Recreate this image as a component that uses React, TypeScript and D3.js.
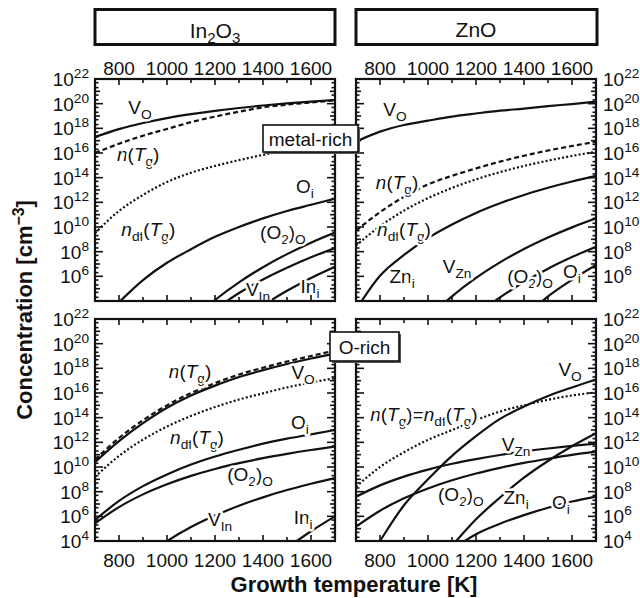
import React from 'react';
import * as d3 from 'd3';

// ---------- DATA (log10 of concentration in cm^-3) ----------
const T_FULL = [700, 800, 900, 1000, 1100, 1200, 1300, 1400, 1500, 1600, 1700];
const X_TICK_LABELS = [800, 1000, 1200, 1400, 1600];

// In2O3, metal-rich
const IN_M_VO = [17.3, 17.94, 18.43, 18.83, 19.15, 19.42, 19.65, 19.85, 20.02, 20.17, 20.3];
const IN_M_N = [16.0, 16.75, 17.4, 17.95, 18.5, 18.95, 19.35, 19.7, 19.92, 20.1, 20.27];
const IN_M_NDF = [9.5, 11.3, 12.6, 13.65, 14.4, 14.95, 15.42, 15.85, 16.25, 16.6, 16.95];
const IN_M_OI_T = [800, 900, 1000, 1100, 1200, 1300, 1400, 1500, 1600, 1700];
const IN_M_OI = [3.9, 5.7, 7.1, 8.2, 9.2, 10.0, 10.7, 11.3, 11.8, 12.3];
const IN_M_O2_T = [1100, 1200, 1300, 1400, 1500, 1600, 1700];
const IN_M_O2 = [2.4, 4.08, 5.51, 6.74, 7.8, 8.73, 9.55];
const IN_M_VIN_T = [1200, 1300, 1400, 1500, 1600, 1700];
const IN_M_VIN = [3.3, 4.65, 5.75, 6.7, 7.55, 8.3];
const IN_M_INI_T = [1400, 1500, 1600, 1700];
const IN_M_INI = [3.65, 4.83, 5.87, 6.78];

// ZnO, metal-rich
const ZN_M_VO = [16.92, 17.73, 18.27, 18.62, 18.95, 19.2, 19.43, 19.6, 19.8, 19.97, 20.16];
const ZN_M_N = [9.7, 11.2, 12.45, 13.45, 14.15, 14.75, 15.3, 15.78, 16.2, 16.57, 16.9];
const ZN_M_NDF = [8.5, 10.06, 11.33, 12.34, 13.17, 13.86, 14.45, 14.95, 15.38, 15.76, 16.1];
const ZN_M_ZNI = [3.3, 6.05, 7.74, 9.1, 10.2, 11.14, 11.92, 12.6, 13.18, 13.69, 14.14];
const ZN_M_VZN_T = [1000, 1100, 1200, 1300, 1400, 1500, 1600, 1700];
const ZN_M_VZN = [2.6, 4.38, 5.87, 7.13, 8.22, 9.15, 9.97, 10.7];
const ZN_M_O2_T = [1200, 1300, 1400, 1500, 1600, 1700];
const ZN_M_O2 = [2.9, 4.29, 5.54, 6.62, 7.56, 8.4];
const ZN_M_OI_T = [1400, 1500, 1600, 1700];
const ZN_M_OI = [2.6, 4.37, 5.72, 6.92];

// In2O3, O-rich
const IN_O_VO = [10.4, 12.1, 13.55, 14.8, 15.8, 16.6, 17.3, 17.85, 18.35, 18.8, 19.2];
const IN_O_N = [10.6, 12.35, 13.8, 15.0, 16.0, 16.8, 17.5, 18.05, 18.55, 19.0, 19.45];
const IN_O_NDF = [9.2, 10.9, 12.22, 13.28, 14.14, 14.86, 15.47, 15.97, 16.45, 16.85, 17.2];
const IN_O_OI = [5.7, 7.25, 8.45, 9.4, 10.2, 10.85, 11.4, 11.9, 12.3, 12.65, 13.0];
const IN_O_O2 = [5.43, 6.75, 7.78, 8.6, 9.28, 9.84, 10.31, 10.72, 11.07, 11.38, 11.65];
const IN_O_VIN_T = [900, 1000, 1100, 1200, 1300, 1400, 1500, 1600, 1700];
const IN_O_VIN = [2.6, 3.99, 5.13, 6.06, 6.86, 7.54, 8.13, 8.64, 9.1];
const IN_O_INI_T = [1500, 1600, 1700];
const IN_O_INI = [3.43, 4.79, 6.0];

// ZnO, O-rich
const ZN_O_VO = [0.8, 4.0, 6.9, 9.0, 10.9, 12.5, 13.9, 14.9, 15.75, 16.45, 17.1];
const ZN_O_N = [8.4, 10.0, 11.2, 12.2, 13.0, 13.8, 14.5, 15.0, 15.45, 15.8, 16.05];
const ZN_O_VZN = [7.59, 8.51, 9.22, 9.79, 10.26, 10.64, 10.97, 11.26, 11.5, 11.71, 11.9];
const ZN_O_O2 = [5.16, 6.45, 7.46, 8.26, 8.92, 9.47, 9.93, 10.33, 10.67, 10.98, 11.24];
const ZN_O_ZNI_T = [1100, 1200, 1300, 1400, 1500, 1600, 1700];
const ZN_O_ZNI = [3.6, 5.76, 7.53, 9.14, 10.49, 11.68, 12.73];
const ZN_O_OI_T = [1100, 1200, 1300, 1400, 1500, 1600, 1700];
const ZN_O_OI = [3.3, 4.55, 5.4, 6.1, 6.7, 7.2, 7.6];

// ---------- LABEL TEXTS ----------
type Part = [string, string?];
const L_VO: Part[] = [['V'], ['O', 's']];
const L_N: Part[] = [['n', 'i'], ['('], ['T', 'i'], ['g', 's'], [')']];
const L_NDF: Part[] = [['n', 'i'], ['df', 's'], ['('], ['T', 'i'], ['g', 's'], [')']];
const L_OI: Part[] = [['O'], ['i', 's']];
const L_O2: Part[] = [['(O'], ['2', 's'], [')'], ['O', 's']];
const L_VIN: Part[] = [['V'], ['In', 's']];
const L_INI: Part[] = [['In'], ['i', 's']];
const L_ZNI: Part[] = [['Zn'], ['i', 's']];
const L_VZN: Part[] = [['V'], ['Zn', 's']];
const L_NEQ: Part[] = [...L_N, ['=']  as Part, ...L_NDF];

const FONT = 'Liberation Sans, Arial, Helvetica, sans-serif';

const PANEL_W = 240;
const PANEL_H = 222;
const COL_X = [95, 356];
const ROW_Y = [79, 319];

type Series = { T: number[]; v: number[]; style: 'solid' | 'dash' | 'dot' };
type Lab = { T: number; e: number; parts: Part[] };

const PANELS: { col: number; row: number; series: Series[]; labels: Lab[] }[] = [
  {
    col: 0, row: 0,
    series: [
      { T: T_FULL, v: IN_M_VO, style: 'solid' },
      { T: T_FULL, v: IN_M_N, style: 'dash' },
      { T: T_FULL, v: IN_M_NDF, style: 'dot' },
      { T: IN_M_OI_T, v: IN_M_OI, style: 'solid' },
      { T: IN_M_O2_T, v: IN_M_O2, style: 'solid' },
      { T: IN_M_VIN_T, v: IN_M_VIN, style: 'solid' },
      { T: IN_M_INI_T, v: IN_M_INI, style: 'solid' },
    ],
    labels: [
      { T: 887, e: 19.65, parts: L_VO },
      { T: 880, e: 15.84, parts: L_N },
      { T: 922, e: 9.75, parts: L_NDF },
      { T: 1575, e: 13.24, parts: L_OI },
      { T: 1483, e: 9.51, parts: L_O2 },
      { T: 1379, e: 4.89, parts: L_VIN },
      { T: 1596, e: 5.13, parts: L_INI },
    ],
  },
  {
    col: 1, row: 0,
    series: [
      { T: T_FULL, v: ZN_M_VO, style: 'solid' },
      { T: T_FULL, v: ZN_M_N, style: 'dash' },
      { T: T_FULL, v: ZN_M_NDF, style: 'dot' },
      { T: T_FULL, v: ZN_M_ZNI, style: 'solid' },
      { T: ZN_M_VZN_T, v: ZN_M_VZN, style: 'solid' },
      { T: ZN_M_O2_T, v: ZN_M_O2, style: 'solid' },
      { T: ZN_M_OI_T, v: ZN_M_OI, style: 'solid' },
    ],
    labels: [
      { T: 862, e: 19.49, parts: L_VO },
      { T: 871, e: 13.57, parts: L_N },
      { T: 900, e: 9.75, parts: L_NDF },
      { T: 892, e: 5.94, parts: L_ZNI },
      { T: 1121, e: 6.75, parts: L_VZN },
      { T: 1425, e: 5.94, parts: L_O2 },
      { T: 1600, e: 6.35, parts: L_OI },
    ],
  },
  {
    col: 0, row: 1,
    series: [
      { T: T_FULL, v: IN_O_VO, style: 'solid' },
      { T: T_FULL, v: IN_O_N, style: 'dash' },
      { T: T_FULL, v: IN_O_NDF, style: 'dot' },
      { T: T_FULL, v: IN_O_OI, style: 'solid' },
      { T: T_FULL, v: IN_O_O2, style: 'solid' },
      { T: IN_O_VIN_T, v: IN_O_VIN, style: 'solid' },
      { T: IN_O_INI_T, v: IN_O_INI, style: 'solid' },
    ],
    labels: [
      { T: 1096, e: 17.7, parts: L_N },
      { T: 1567, e: 17.62, parts: L_VO },
      { T: 1554, e: 13.57, parts: L_OI },
      { T: 1125, e: 12.35, parts: L_NDF },
      { T: 1346, e: 9.35, parts: L_O2 },
      { T: 1221, e: 5.7, parts: L_VIN },
      { T: 1567, e: 5.86, parts: L_INI },
    ],
  },
  {
    col: 1, row: 1,
    series: [
      { T: T_FULL, v: ZN_O_VO, style: 'solid' },
      { T: T_FULL, v: ZN_O_N, style: 'dot' },
      { T: T_FULL, v: ZN_O_VZN, style: 'solid' },
      { T: T_FULL, v: ZN_O_O2, style: 'solid' },
      { T: ZN_O_ZNI_T, v: ZN_O_ZNI, style: 'solid' },
      { T: ZN_O_OI_T, v: ZN_O_OI, style: 'solid' },
    ],
    labels: [
      { T: 983, e: 14.21, parts: L_NEQ },
      { T: 1592, e: 17.86, parts: L_VO },
      { T: 1367, e: 11.78, parts: L_VZN },
      { T: 1137, e: 7.73, parts: L_O2 },
      { T: 1367, e: 7.48, parts: L_ZNI },
      { T: 1554, e: 7.08, parts: L_OI },
    ],
  },
];

function Rich({ x, y, parts, size = 19, anchor = 'middle', halo = false, weight = 'normal' }:
  { x: number; y: number; parts: Part[]; size?: number; anchor?: string; halo?: boolean; weight?: string }) {
  let shift = 0;
  const spans = parts.map(([t, st], i) => {
    const s = st || '';
    const sub = s.includes('s');
    const sup = s.includes('p');
    const target = sub ? 5 : sup ? -8 : 0;
    const dy = target - shift;
    shift = target;
    return (
      <tspan key={i} dy={dy} fontSize={sub || sup ? size * 0.72 : size} fontStyle={s.includes('i') ? 'italic' : 'normal'}>
        {t}
      </tspan>
    );
  });
  return (
    <text
      x={x}
      y={y}
      textAnchor={anchor as any}
      fontFamily={FONT}
      fontSize={size}
      fontWeight={weight}
      fill="#111"
      stroke={halo ? 'white' : 'none'}
      strokeWidth={halo ? 5 : 0}
      strokeLinejoin="round"
      style={{ paintOrder: 'stroke' } as any}
    >
      {spans}
    </text>
  );
}

function Panel({ p, idx }: { p: (typeof PANELS)[number]; idx: number }) {
  const x0 = COL_X[p.col];
  const y0 = ROW_Y[p.row];
  const xs = d3.scaleLinear().domain([700, 1700]).range([x0, x0 + PANEL_W]);
  const ys = d3.scaleLog().domain([1e4, 1e22]).range([y0 + PANEL_H, y0]);
  const line = (s: Series) =>
    d3
      .line<number>()
      .x((_, i) => xs(s.T[i]))
      .y((v) => ys(Math.pow(10, v)))
      .curve(d3.curveMonotoneX)(s.v) || '';
  const clipId = `clip${idx}`;

  const xTicks = d3.range(800, 1700, 100);
  const yMajor = d3.range(5, 22, 1);
  const yMinor: number[] = [];
  for (let e = 4; e < 22; e++) {
    yMinor.push(Math.pow(10, e) * 2, Math.pow(10, e) * 5);
  }
  const tickEls: JSX.Element[] = [];
  xTicks.forEach((t) => {
    const len = t % 200 === 0 ? 6 : 4;
    const x = xs(t);
    tickEls.push(<line key={`xt${t}`} x1={x} x2={x} y1={y0} y2={y0 + len} />);
    tickEls.push(<line key={`xb${t}`} x1={x} x2={x} y1={y0 + PANEL_H} y2={y0 + PANEL_H - len} />);
  });
  yMajor.forEach((e) => {
    const len = e % 2 === 0 ? 8 : 5;
    const y = ys(Math.pow(10, e));
    tickEls.push(<line key={`yl${e}`} x1={x0} x2={x0 + len} y1={y} y2={y} />);
    tickEls.push(<line key={`yr${e}`} x1={x0 + PANEL_W} x2={x0 + PANEL_W - len} y1={y} y2={y} />);
  });
  yMinor.forEach((v, i) => {
    const y = ys(v);
    tickEls.push(<line key={`ml${i}`} x1={x0} x2={x0 + 3.5} y1={y} y2={y} />);
    tickEls.push(<line key={`mr${i}`} x1={x0 + PANEL_W} x2={x0 + PANEL_W - 3.5} y1={y} y2={y} />);
  });

  // tick labels
  const tickLabels: JSX.Element[] = [];
  const showTop = p.row === 0;
  X_TICK_LABELS.forEach((t) => {
    tickLabels.push(
      <text key={`xl${t}`} x={xs(t)} y={showTop ? y0 - 4 : y0 + PANEL_H + 26} textAnchor="middle" fontFamily={FONT} fontSize={19} fill="#111">
        {t}
      </text>
    );
  });
  const eStart = p.row === 0 ? 6 : 4;
  for (let e = eStart; e <= 22; e += 2) {
    const y = ys(Math.pow(10, e)) + 7;
    const parts: Part[] = [['10'], [String(e), 'p']];
    if (p.col === 0) {
      tickLabels.push(<Rich key={`yl${e}`} x={89} y={y} parts={parts} anchor="end" />);
    } else {
      tickLabels.push(<Rich key={`yr${e}`} x={603} y={y} parts={parts} anchor="start" />);
    }
  }

  return (
    <g>
      <defs>
        <clipPath id={clipId}>
          <rect x={x0} y={y0} width={PANEL_W} height={PANEL_H} />
        </clipPath>
      </defs>
      <rect x={x0} y={y0} width={PANEL_W} height={PANEL_H} fill="white" />
      <g clipPath={`url(#${clipId})`}>
        {p.series.map((s, i) => (
          <path
            key={i}
            d={line(s)}
            fill="none"
            stroke="#111"
            strokeWidth={s.style === 'dot' ? 2.2 : 2.2}
            strokeDasharray={s.style === 'dash' ? '5,3' : s.style === 'dot' ? '2,2.2' : undefined}
          />
        ))}
        <g stroke="#111" strokeWidth={1.6}>{tickEls}</g>
        {p.labels.map((l, i) => (
          <Rich key={i} x={xs(l.T)} y={ys(Math.pow(10, l.e)) + 6} parts={l.parts} halo />
        ))}
      </g>
      <rect x={x0} y={y0} width={PANEL_W} height={PANEL_H} fill="none" stroke="#111" strokeWidth={2.2} />
      {tickLabels}
    </g>
  );
}

function BoxLabel({ x, y, w, h, text }: { x: number; y: number; w: number; h: number; text: string }) {
  return (
    <g>
      <rect x={x + 2} y={y + 2} width={w} height={h} fill="#555" />
      <rect x={x} y={y} width={w} height={h} fill="white" stroke="#111" strokeWidth={1.6} />
      <text x={x + w / 2} y={y + h / 2 + 7} textAnchor="middle" fontFamily={FONT} fontSize={19} fill="#111">
        {text}
      </text>
    </g>
  );
}

export default function App() {
  return (
    <svg width={640} height={598} style={{ position: 'absolute', left: 0, top: 0, background: 'white' }}>
      <rect x={0} y={0} width={640} height={598} fill="white" />
      {/* strip titles */}
      <rect x={95} y={9.5} width={240} height={35} fill="white" stroke="#111" strokeWidth={3} />
      <Rich x={215} y={38} parts={[['In'], ['2', 's'], ['O'], ['3', 's']]} size={21} />
      <rect x={356} y={9.5} width={241} height={35} fill="white" stroke="#111" strokeWidth={3} />
      <Rich x={476} y={37} parts={[['ZnO']]} size={21} />

      {PANELS.map((p, i) => (
        <Panel key={i} p={p} idx={i} />
      ))}

      <BoxLabel x={263} y={125} w={95} h={27} text="metal-rich" />
      <BoxLabel x={330} y={332} w={69} h={29} text="O-rich" />

      {/* axis titles */}
      <text x={354} y={592} textAnchor="middle" fontFamily={FONT} fontSize={22} fontWeight="bold" fill="#111">
        Growth temperature [K]
      </text>
      <g transform="translate(32,310) rotate(-90)">
        <Rich x={0} y={0} parts={[['Concentration [cm'], ['\u22123', 'p'], [']']]} size={22} weight="bold" />
      </g>
    </svg>
  );
}
